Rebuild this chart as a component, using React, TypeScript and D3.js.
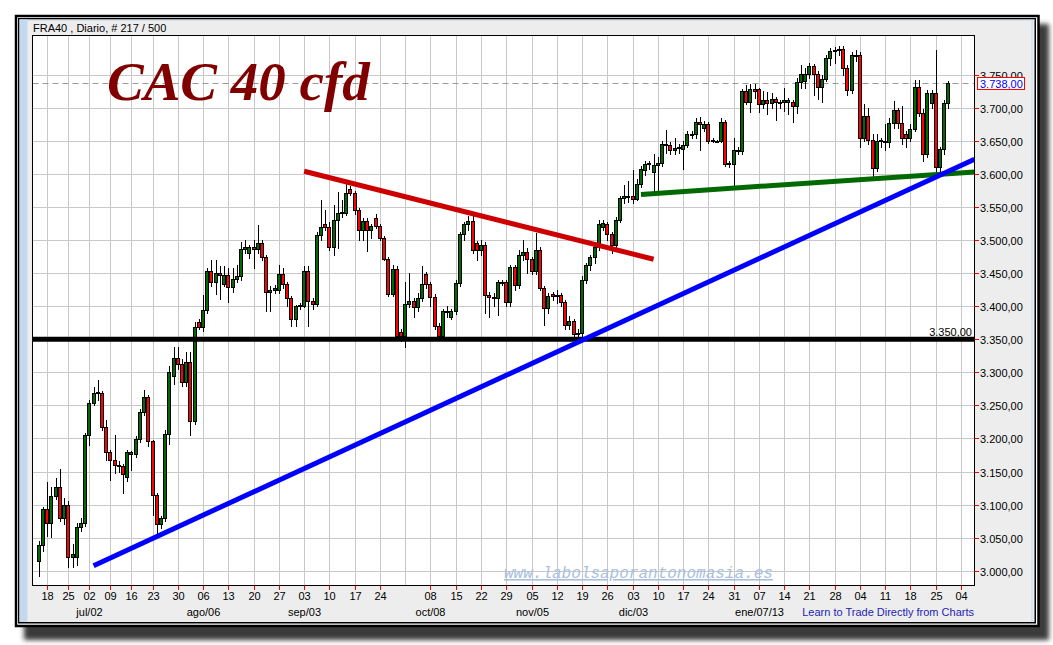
import React from 'react';
import * as d3 from 'd3';

// ---- data ----
const opens = [
  3015, 3039, 3094, 3072, 3113, 3126, 3079, 3100, 3021, 3021,
  3066, 3072, 3205, 3253, 3268, 3268, 3217, 3179, 3167, 3160,
  3159, 3141, 3176, 3176, 3199, 3240, 3262, 3196, 3115, 3070,
  3079, 3206, 3295, 3321, 3312, 3285, 3316, 3227, 3376, 3368,
  3394, 3453, 3437, 3450, 3434, 3447, 3429, 3441, 3446, 3487,
  3480, 3490, 3487, 3496, 3474, 3422, 3425, 3425, 3448, 3433,
  3412, 3380, 3400, 3400, 3453, 3408, 3403, 3507, 3524, 3520,
  3490, 3531, 3541, 3541, 3577, 3571, 3545, 3515, 3529, 3515,
  3533, 3521, 3503, 3472, 3419, 3456, 3361, 3355, 3404, 3408,
  3398, 3413, 3448, 3433, 3414, 3370, 3355, 3392, 3384, 3392,
  3435, 3509, 3524, 3529, 3495, 3485, 3493, 3417, 3414, 3412,
  3436, 3436, 3406, 3459, 3432, 3477, 3482, 3471, 3453, 3485,
  3427, 3397, 3419, 3415, 3417, 3407, 3372, 3378, 3358, 3359,
  3440, 3462, 3475, 3489, 3520, 3524, 3509, 3493, 3531, 3564,
  3565, 3567, 3562, 3585, 3606, 3615, 3603, 3613, 3617, 3644,
  3644, 3636, 3639, 3637, 3644, 3660, 3660, 3679, 3669, 3675,
  3651, 3650, 3650, 3678, 3616, 3615, 3635, 3635, 3726, 3708,
  3728, 3728, 3706, 3711, 3707, 3713, 3708, 3708, 3709, 3709,
  3703, 3739, 3740, 3751, 3763, 3751, 3732, 3744, 3775, 3786,
  3787, 3789, 3760, 3727, 3780, 3780, 3655, 3688, 3651, 3609,
  3649, 3650, 3648, 3677, 3696, 3677, 3660, 3654, 3668, 3732,
  3692, 3630, 3707, 3723, 3611, 3637, 3707,
];
const highs = [
  3045, 3097, 3134, 3127, 3140, 3154, 3110, 3105, 3040, 3072,
  3080, 3208, 3258, 3278, 3288, 3272, 3228, 3182, 3205, 3166,
  3162, 3183, 3181, 3203, 3245, 3273, 3266, 3198, 3117, 3083,
  3213, 3310, 3338, 3338, 3320, 3330, 3330, 3376, 3380, 3417,
  3458, 3470, 3470, 3460, 3460, 3457, 3457, 3462, 3497, 3500,
  3492, 3500, 3523, 3500, 3478, 3430, 3432, 3462, 3457, 3436,
  3415, 3402, 3405, 3460, 3460, 3412, 3512, 3560, 3545, 3528,
  3553, 3573, 3560, 3586, 3582, 3574, 3548, 3533, 3534, 3525,
  3540, 3525, 3506, 3475, 3462, 3460, 3365, 3437, 3450, 3412,
  3420, 3460, 3452, 3437, 3418, 3375, 3395, 3400, 3395, 3440,
  3512, 3528, 3536, 3536, 3498, 3500, 3497, 3422, 3420, 3440,
  3440, 3440, 3462, 3462, 3485, 3500, 3488, 3475, 3510, 3490,
  3430, 3420, 3422, 3425, 3420, 3410, 3385, 3380, 3365, 3445,
  3466, 3478, 3495, 3530, 3530, 3528, 3512, 3535, 3566, 3583,
  3590, 3606, 3592, 3612, 3620, 3620, 3630, 3625, 3650, 3666,
  3648, 3654, 3645, 3650, 3665, 3665, 3685, 3686, 3680, 3678,
  3654, 3652, 3684, 3682, 3620, 3654, 3640, 3728, 3735, 3736,
  3736, 3730, 3725, 3724, 3722, 3716, 3712, 3730, 3715, 3712,
  3745, 3765, 3760, 3768, 3766, 3755, 3750, 3780, 3790, 3792,
  3793, 3793, 3765, 3785, 3787, 3784, 3706, 3700, 3660, 3660,
  3655, 3675, 3685, 3710, 3700, 3702, 3665, 3675, 3742, 3742,
  3698, 3727, 3727, 3787, 3640, 3712, 3741,
];
const lows = [
  2992, 3030, 3053, 3051, 3108, 3075, 3070, 3006, 3005, 3008,
  3060, 3068, 3190, 3250, 3258, 3212, 3167, 3137, 3147, 3150,
  3117, 3135, 3152, 3172, 3195, 3235, 3189, 3084, 3057, 3065,
  3075, 3192, 3282, 3305, 3280, 3280, 3205, 3222, 3365, 3362,
  3390, 3430, 3418, 3411, 3430, 3407, 3422, 3437, 3440, 3480,
  3473, 3458, 3480, 3470, 3393, 3393, 3420, 3420, 3428, 3400,
  3370, 3370, 3396, 3398, 3370, 3395, 3400, 3500, 3515, 3485,
  3477, 3488, 3535, 3538, 3568, 3540, 3500, 3500, 3483, 3503,
  3518, 3500, 3470, 3415, 3415, 3350, 3348, 3339, 3398, 3384,
  3392, 3408, 3428, 3400, 3365, 3352, 3352, 3384, 3380, 3388,
  3430, 3500, 3515, 3480, 3470, 3478, 3389, 3384, 3400, 3387,
  3432, 3400, 3400, 3425, 3428, 3470, 3450, 3448, 3448, 3425,
  3372, 3390, 3410, 3405, 3400, 3365, 3365, 3355, 3350, 3355,
  3435, 3455, 3465, 3485, 3515, 3500, 3480, 3488, 3528, 3556,
  3558, 3556, 3560, 3580, 3598, 3608, 3570, 3576, 3612, 3631,
  3630, 3630, 3632, 3608, 3640, 3655, 3655, 3636, 3665, 3647,
  3648, 3648, 3648, 3612, 3610, 3581, 3630, 3630, 3705, 3693,
  3715, 3694, 3700, 3690, 3700, 3682, 3700, 3695, 3690, 3678,
  3692, 3730, 3730, 3745, 3720, 3713, 3709, 3740, 3765, 3768,
  3780, 3750, 3720, 3722, 3770, 3641, 3650, 3645, 3596, 3604,
  3640, 3636, 3640, 3670, 3670, 3645, 3640, 3650, 3665, 3688,
  3620, 3625, 3700, 3601, 3602, 3630, 3700,
];
const closes = [
  3039, 3094, 3072, 3113, 3126, 3079, 3100, 3021, 3026, 3066,
  3072, 3205, 3253, 3269, 3270, 3217, 3179, 3167, 3160, 3159,
  3146, 3179, 3179, 3199, 3240, 3262, 3196, 3115, 3070, 3079,
  3206, 3300, 3321, 3312, 3285, 3316, 3227, 3368, 3368, 3394,
  3453, 3437, 3450, 3447, 3447, 3429, 3441, 3446, 3487, 3490,
  3490, 3487, 3496, 3474, 3422, 3425, 3427, 3448, 3433, 3412,
  3380, 3400, 3402, 3453, 3408, 3403, 3507, 3520, 3520, 3490,
  3531, 3541, 3543, 3571, 3571, 3545, 3515, 3529, 3515, 3521,
  3521, 3503, 3472, 3419, 3456, 3355, 3355, 3404, 3408, 3398,
  3413, 3433, 3433, 3414, 3370, 3355, 3392, 3393, 3392, 3435,
  3509, 3524, 3529, 3485, 3485, 3493, 3417, 3414, 3412, 3436,
  3437, 3406, 3459, 3432, 3477, 3482, 3471, 3453, 3485, 3427,
  3397, 3415, 3415, 3417, 3407, 3372, 3378, 3358, 3359, 3440,
  3462, 3475, 3489, 3524, 3526, 3509, 3493, 3531, 3563, 3566,
  3566, 3562, 3585, 3607, 3615, 3616, 3613, 3617, 3645, 3645,
  3636, 3639, 3640, 3644, 3660, 3661, 3679, 3675, 3675, 3650,
  3650, 3650.5, 3678, 3615, 3615, 3636, 3636, 3726, 3708, 3728,
  3726, 3706, 3711, 3707, 3713, 3708, 3709, 3711, 3711, 3703,
  3739, 3751, 3751, 3763, 3751, 3732, 3744, 3775, 3786, 3787,
  3789, 3760, 3727, 3780, 3779, 3655, 3688, 3651, 3609, 3650,
  3651, 3648, 3677, 3696, 3677, 3654, 3654, 3668, 3732, 3692,
  3630, 3723, 3723, 3611, 3637, 3707, 3738,
];

const dayTickIdx = [2, 7, 12, 17, 22, 27, 33, 39, 45, 51, 57, 63, 69, 75, 81, 87, 93, 99, 105, 111, 117, 123, 129, 135, 141, 147, 153, 159, 165, 171, 177, 183, 189, 195, 201, 207, 213, 219];
const dayTickLabels = ['18', '25', '02', '09', '16', '23', '30', '06', '13', '20', '27', '03', '10', '17', '24', '', '08', '15', '22', '29', '05', '12', '19', '26', '03', '10', '17', '24', '31', '07', '14', '21', '28', '04', '11', '18', '25', '04'];
const monthIdx = [12, 39, 63, 93, 117, 141, 171];
const monthLabels = ['jul/02', 'ago/06', 'sep/03', 'oct/08', 'nov/05', 'dic/03', 'ene/07/13'];
const priceTicks = [3000, 3050, 3100, 3150, 3200, 3250, 3300, 3350, 3400, 3450, 3500, 3550, 3600, 3650, 3700, 3750];
const lastPrice = 3738;
const supportLevel = 3350;
const redTrend = [[63, 3604], [146, 3471]];
const blueTrend = [[13, 3007.6], [222.2, 3622.3]];
const greenTrend = [[143, 3569], [222.2, 3603]];

const fmt = (v: number) =>
  d3.format(',.2f')(v).replace(/,/g, '_').replace('.', ',').replace(/_/g, '.');

const SANS = 'Liberation Sans, Arial, sans-serif';

export default function App() {
  const L = 32.5, R = 974.5, T = 35.5, B = 585.5;
  const x = d3.scaleLinear().domain([-1.5, 222.2]).range([L, R]);
  const y = d3.scaleLinear().domain([3000, 3750]).range([570.7, 74.7]);
  const n = Math.min(opens.length, highs.length, lows.length, closes.length);
  const idx = d3.range(n);

  return (
    <svg width={1053} height={645} style={{ position: 'absolute', left: 0, top: 0, display: 'block' }}>
      <defs>
        <filter id="shadow" x="-5%" y="-5%" width="110%" height="110%">
          <feGaussianBlur stdDeviation="2.5" />
        </filter>
        <clipPath id="plotclip">
          <rect x={L} y={T} width={R - L} height={B - T} />
        </clipPath>
      </defs>
      <rect x={0} y={0} width={1053} height={645} fill="#ffffff" />
      {/* frame shadow */}
      <rect x={24} y={24} width={1025} height={616} fill="#3a3a3a" filter="url(#shadow)" />
      {/* frame */}
      <rect x={16} y={16} width={1022.5} height={610} fill="#ffffff" stroke="#000" strokeWidth={2.5} />
      <rect x={18.75} y={18.75} width={1016.5} height={604} fill="#ededed" stroke="#000" strokeWidth={1.5} />
      <rect x={19.5} y={19.5} width={8} height={602.5} fill="#c3d9f0" />
      <line x1={19.5} x2={1034.5} y1={20} y2={20} stroke="#c3d9f0" strokeWidth={1} />
      <line x1={1032} x2={1032} y1={19.5} y2={622} stroke="#c3d9f0" strokeWidth={1} />

      {/* header */}
      <text x={33} y={32} fontFamily={SANS} fontSize={11} fill="#000">FRA40 , Diario, # 217 / 500</text>

      {/* plot background */}
      <rect x={L} y={T} width={R - L} height={B - T} fill="#ffffff" />

      {/* grid */}
      <g stroke="#c8c8c8" strokeWidth={1}>
        {priceTicks.map((v) => {
          const yy = Math.round(y(v)) + 0.5;
          return <line key={'h' + v} x1={L} x2={R} y1={yy} y2={yy} />;
        })}
        {dayTickIdx.map((t, k) => {
          const xx = Math.round(x(t)) + 0.5;
          if (xx > R) return null;
          return <line key={'v' + k} x1={xx} x2={xx} y1={T} y2={B} />;
        })}
      </g>

      {/* last price dashed line */}
      <line x1={L} x2={R} y1={Math.round(y(lastPrice)) + 0.5} y2={Math.round(y(lastPrice)) + 0.5}
        stroke="#999" strokeWidth={1} strokeDasharray="6,4" />

      {/* watermark */}
      <text x={504} y={578} fontFamily="Liberation Mono, Courier New, monospace" fontStyle="italic"
        fontSize={16} fill="#a9bfdc" textDecoration="underline">www.labolsaporantonomasia.es</text>

      {/* candles */}
      <g clipPath="url(#plotclip)">
        {idx.map((i) => {
          const o = opens[i], h = highs[i], l = lows[i], c = closes[i];
          const cx = Math.round(x(i));
          const up = c >= o;
          const yt = Math.round(y(Math.max(o, c)));
          const yb = Math.round(y(Math.min(o, c)));
          return (
            <g key={i}>
              <line x1={cx + 0.5} x2={cx + 0.5} y1={Math.round(y(h))} y2={Math.round(y(l)) + 1}
                stroke="#000" strokeWidth={1} />
              <rect x={cx - 1.5} width={3} y={yt + 0.5} height={Math.max(yb - yt, 1)}
                fill={up ? '#006a00' : '#ff0000'} stroke="#000" strokeWidth={1} />
            </g>
          );
        })}

        {/* support line */}
        <line x1={L} x2={R} y1={y(supportLevel)} y2={y(supportLevel)} stroke="#000" strokeWidth={5} />
        {/* trend lines */}
        <line x1={x(redTrend[0][0])} y1={y(redTrend[0][1])} x2={x(redTrend[1][0])} y2={y(redTrend[1][1])}
          stroke="#cc0000" strokeWidth={5} />
        <line x1={x(greenTrend[0][0])} y1={y(greenTrend[0][1])} x2={x(greenTrend[1][0])} y2={y(greenTrend[1][1])}
          stroke="#006a00" strokeWidth={5} />
        <line x1={x(blueTrend[0][0])} y1={y(blueTrend[0][1])} x2={x(blueTrend[1][0])} y2={y(blueTrend[1][1])}
          stroke="#0000ff" strokeWidth={5} />
      </g>

      <text x={972} y={336} textAnchor="end" fontFamily={SANS} fontSize={11} fill="#000">{fmt(supportLevel)}</text>

      {/* title */}
      <text x={107} y={100} fontFamily="Liberation Serif, Times New Roman, serif" fontWeight="bold"
        fontStyle="italic" fontSize={55} fill="#800000">CAC 40 cfd</text>

      {/* plot border */}
      <rect x={L} y={T} width={R - L} height={B - T} fill="none" stroke="#000" strokeWidth={1} />

      {/* y axis */}
      {priceTicks.map((v) => {
        const yy = Math.round(y(v)) + 0.5;
        return (
          <g key={'yt' + v}>
            <line x1={R} x2={979} y1={yy} y2={yy} stroke="#ff0000" strokeWidth={1} />
            <text x={980} y={yy + 4} fontFamily={SANS} fontSize={11} fill="#000">{fmt(v)}</text>
          </g>
        );
      })}
      <rect x={977.5} y={77.5} width={47} height={12} fill="#ffffff" stroke="#ff0000" strokeWidth={1} />
      <text x={980} y={87.5} fontFamily={SANS} fontSize={11} fill="#0000ff">{fmt(lastPrice)}</text>

      {/* x axis */}
      {dayTickIdx.map((t, k) => {
        const xx = Math.round(x(t)) + 0.5;
        if (!dayTickLabels[k]) return null;
        return (
          <g key={'xt' + k}>
            <line x1={xx} x2={xx} y1={B} y2={590} stroke="#ff0000" strokeWidth={1} />
            <text x={xx} y={600} textAnchor="middle" fontFamily={SANS} fontSize={11} fill="#000">{dayTickLabels[k]}</text>
          </g>
        );
      })}
      {monthIdx.map((t, k) => (
        <text key={'m' + k} x={Math.round(x(t)) + 0.5} y={616} textAnchor="middle" fontFamily={SANS}
          fontSize={11} fill="#000">{monthLabels[k]}</text>
      ))}
      <text x={974} y={616} textAnchor="end" fontFamily={SANS} fontSize={11} fill="#2323b4">Learn to Trade Directly from Charts</text>
    </svg>
  );
}
